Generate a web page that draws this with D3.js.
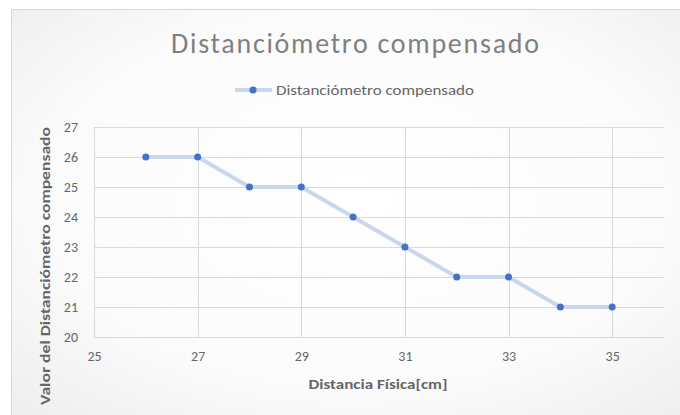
<!DOCTYPE html>
<html><head><meta charset="utf-8">
<script src="https://cdn.jsdelivr.net/npm/d3@7/dist/d3.min.js"></script>
<style>body{margin:0;background:#fff;} svg{display:block;}</style>
</head><body>
<svg id="c" width="680" height="415"></svg>
<script>
const distancias = [26, 27, 28, 29, 30, 31, 32, 33, 34, 35];
const valores = [26, 26, 25, 25, 24, 23, 22, 22, 21, 21];
const xTicks = [25, 27, 29, 31, 33, 35];
const yTicks = [20, 21, 22, 23, 24, 25, 26, 27];
const titulo = "Distanciómetro compensado";
const serie = "Distanciómetro compensado";
const xTitulo = "Distancia Física[cm]";
const yTitulo = "Valor del Distanciómetro compensado";

const svg = d3.select("#c");
const font = "Calibri, Carlito, 'Liberation Sans Narrow', 'Open Sans', sans-serif";

const defs = svg.append("defs");
const rg = defs.append("radialGradient").attr("id","bg").attr("cx","50%").attr("cy","45%").attr("r","75%");
rg.append("stop").attr("offset","0%").attr("stop-color","#ffffff");
rg.append("stop").attr("offset","60%").attr("stop-color","#fbfbfb");
rg.append("stop").attr("offset","100%").attr("stop-color","#ececec");

svg.append("rect").attr("x",11.5).attr("y",9.5).attr("width",690).attr("height",420)
  .attr("fill","url(#bg)").attr("stroke","#d9d9d9").attr("stroke-width",1);

const x = d3.scaleLinear().domain([25, 36]).range([94, 664]);
const y = d3.scaleLinear().domain([20, 27]).range([337, 127]);

// gridlines
svg.append("g").selectAll("line").data(yTicks).join("line")
  .attr("x1",94).attr("x2",664).attr("y1",d=>Math.round(y(d))+0.5).attr("y2",d=>Math.round(y(d))+0.5)
  .attr("stroke","#d9d9d9").attr("stroke-width",1);
svg.append("g").selectAll("line").data(xTicks).join("line")
  .attr("x1",d=>Math.round(x(d))+0.5).attr("x2",d=>Math.round(x(d))+0.5).attr("y1",127).attr("y2",337)
  .attr("stroke","#d9d9d9").attr("stroke-width",1);

// axes labels via d3 axes
const yAxis = svg.append("g").attr("transform","translate(94,0)")
  .call(d3.axisLeft(y).tickValues(yTicks).tickFormat(d3.format("d")).tickSize(0).tickPadding(16));
const xAxis = svg.append("g").attr("transform","translate(0,337)")
  .call(d3.axisBottom(x).tickValues(xTicks).tickFormat(d3.format("d")).tickSize(0).tickPadding(14));
[yAxis, xAxis].forEach(a=>{
  a.select(".domain").remove();
  a.selectAll("text").attr("fill","#666666").style("font-family",font).style("font-size","14px");
});

// line
const line = d3.line().x((d,i)=>x(distancias[i])).y(d=>y(d));
svg.append("path").datum(valores).attr("d",line).attr("fill","none")
  .attr("stroke","#c9d7ec").attr("stroke-width",4).attr("stroke-linejoin","round").attr("stroke-linecap","round");
svg.append("g").selectAll("circle").data(valores).join("circle")
  .attr("cx",(d,i)=>x(distancias[i])).attr("cy",d=>y(d)).attr("r",3.5).attr("fill","#4472c4");

// title
svg.append("text").attr("x",355).attr("y",53).attr("text-anchor","middle")
  .attr("fill","#808080").style("font-family",font).style("font-size","28px")
  .attr("textLength",368).attr("lengthAdjust","spacing").text(titulo);

// legend
svg.append("line").attr("x1",235).attr("x2",272).attr("y1",90).attr("y2",90)
  .attr("stroke","#c9d7ec").attr("stroke-width",4);
svg.append("circle").attr("cx",253).attr("cy",90).attr("r",3.5).attr("fill","#4472c4");
svg.append("text").attr("x",276).attr("y",94.5).attr("fill","#666666")
  .style("font-family",font).style("font-size","13.5px")
  .attr("textLength",198).attr("lengthAdjust","spacingAndGlyphs").text(serie);

// axis titles
svg.append("text").attr("x",378).attr("y",389).attr("text-anchor","middle")
  .attr("fill","#666666").style("font-family",font).style("font-size","13px").style("font-weight","bold")
  .attr("textLength",139).attr("lengthAdjust","spacingAndGlyphs").text(xTitulo);
svg.append("text").attr("transform","translate(50,266) rotate(-90)").attr("text-anchor","middle")
  .attr("fill","#666666").style("font-family",font).style("font-size","13px").style("font-weight","bold")
  .attr("textLength",278).attr("lengthAdjust","spacingAndGlyphs").text(yTitulo);
</script>
</body></html>
